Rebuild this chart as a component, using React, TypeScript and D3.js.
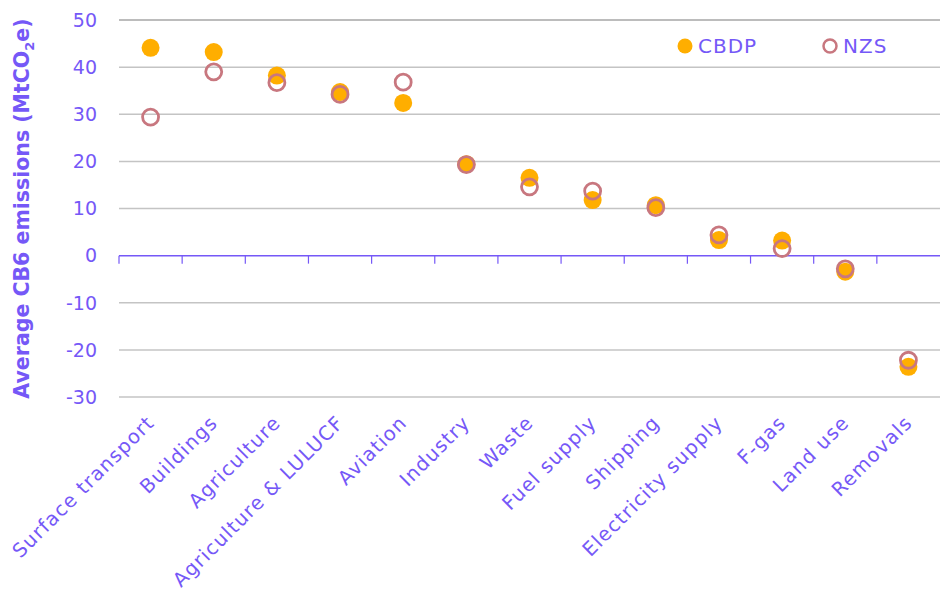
import React from "react";
import * as d3 from "d3";

const categories = ["Surface transport","Buildings","Agriculture","Agriculture & LULUCF","Aviation","Industry","Waste","Fuel supply","Shipping","Electricity supply","F-gas","Land use","Removals"];
const cbdp = [44.1, 43.2, 38.2, 34.7, 32.4, 19.4, 16.5, 11.8, 10.7, 3.3, 3.2, -3.4, -23.6];
const nzs = [29.4, 39.0, 36.7, 34.2, 36.8, 19.3, 14.6, 13.7, 10.2, 4.4, 1.5, -2.8, -22.2];
const yTicks = [50, 40, 30, 20, 10, 0, -10, -20, -30];

const W = 940, H = 596;
const left = 119, right = 940, top = 20, bottom = 397;
const PURPLE = "#7558F7";
const ORANGE = "#FFAE00";
const ROSE = "#C8777F";
const FONT = "'DejaVu Sans', sans-serif";

export default function App() {
  const x = d3.scaleBand().domain(categories).range([left, right]);
  const y = d3.scaleLinear().domain([-30, 50]).range([bottom, top]);
  const bw = x.bandwidth();
  const cx = (c: string) => (x(c) as number) + bw / 2;
  return (
    <svg width={W} height={H} style={{ position: "absolute", left: 0, top: 0 }} fontFamily={FONT}>
      {yTicks.map((t) => (
        <g key={t}>
          {t !== 0 && <line x1={left} x2={right} y1={y(t)} y2={y(t)} stroke={t === 50 ? "#a6a6a6" : "#c4c4c4"} strokeWidth={1.5} />}
          <text x={97} y={y(t)} dy="0.36em" textAnchor="end" fontSize={19} fill={PURPLE}>{t}</text>
        </g>
      ))}
      <line x1={left} x2={right} y1={y(0)} y2={y(0)} stroke={PURPLE} strokeWidth={1.5} />
      {categories.map((c, i) => (
        <line key={"t" + i} x1={x(c) as number} x2={x(c) as number} y1={y(0)} y2={y(0) + 8} stroke={PURPLE} strokeWidth={1.2} />
      ))}
      {categories.map((c, i) => (
        <text key={"l" + i} transform={`translate(${cx(c) + 5},${bottom + 27}) rotate(-45)`} textAnchor="end" fontSize={19.5} letterSpacing={1.2} fill={PURPLE}>{c}</text>
      ))}
      <text transform={`translate(29,${(top + bottom) / 2}) rotate(-90)`} textAnchor="middle" fontSize={20.5} fontWeight="bold" fill={PURPLE}>
        Average CB6 emissions (MtCO<tspan fontSize={13} dy="5">2</tspan><tspan dy="-5">e)</tspan>
      </text>
      {categories.map((c, i) => (
        <circle key={"c" + i} cx={cx(c)} cy={y(cbdp[i])} r={9} fill={ORANGE} />
      ))}
      {categories.map((c, i) => (
        <circle key={"n" + i} cx={cx(c)} cy={y(nzs[i])} r={8} fill="none" stroke={ROSE} strokeWidth={2.8} />
      ))}
      <circle cx={685} cy={46} r={7.5} fill={ORANGE} />
      <text x={698} y={46} dy="0.36em" fontSize={20} letterSpacing={1} fill={PURPLE}>CBDP</text>
      <circle cx={830} cy={46} r={6.5} fill="none" stroke={ROSE} strokeWidth={2.5} />
      <text x={843} y={46} dy="0.36em" fontSize={20} letterSpacing={1} fill={PURPLE}>NZS</text>
    </svg>
  );
}
